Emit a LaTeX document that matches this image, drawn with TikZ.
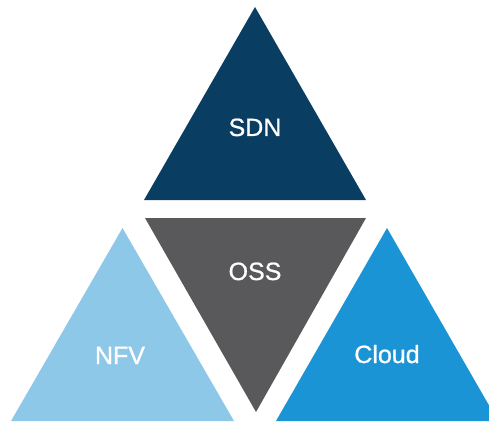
\documentclass[tikz,border=0pt]{standalone}
\usepackage{fontspec}
\setmainfont{Liberation Sans}
\newfontfamily\labelfont[FakeBold=0.8]{Liberation Sans}
\definecolor{sdnblue}{HTML}{0A3D62}
\definecolor{ossgray}{HTML}{59595B}
\definecolor{nfvblue}{HTML}{8DC8E8}
\definecolor{cloudblue}{HTML}{1A94D4}
\begin{document}
\begin{tikzpicture}[x=1pt,y=1pt,
  label/.style={text=white,font=\labelfont\fontsize{25}{25}\selectfont,anchor=base,inner sep=0pt}]
\useasboundingbox (0,0) rectangle (489,421);
\begin{scope}
\clip (0,0) rectangle (489,421);
% upper triangle
\fill[sdnblue] (255,414) -- (144,221) -- (366,221) -- cycle;
% inverted middle triangle
\fill[ossgray] (145,203) -- (366,203) -- (256,9) -- cycle;
% lower left triangle
\fill[nfvblue] (122.5,193) -- (11,0) -- (234,0) -- cycle;
% lower right triangle
\fill[cloudblue] (387,193) -- (276,0) -- (498,0) -- cycle;
\end{scope}
\node[label] (sdn) at (255,285) {SDN};
\node[label] (oss) at (255,141) {OSS};
\node[label] (nfv) at (120,57) {NFV};
\node[label] (cloud) at (387,58) {Cloud};
\end{tikzpicture}
\end{document}
